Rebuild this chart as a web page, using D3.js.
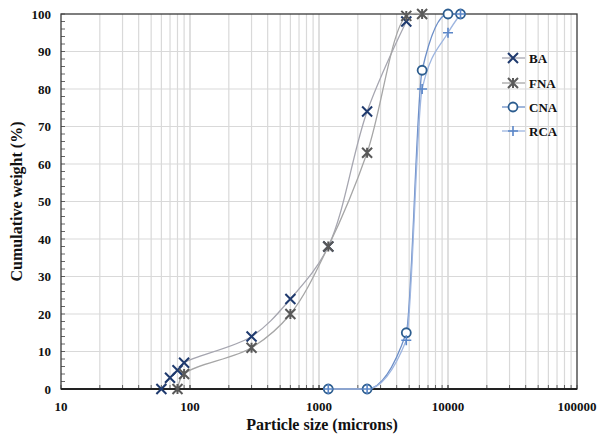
<!DOCTYPE html>
<html>
<head>
<meta charset="utf-8">
<script src="https://cdn.jsdelivr.net/npm/d3@7"></script>
<style>
  html, body { margin: 0; padding: 0; background: #fff; }
  svg { display: block; font-family: "Liberation Serif", "Times New Roman", serif; }
</style>
</head>
<body>
<svg id="chart" width="597" height="434"></svg>
<script>
// Particle size distributions (size in microns, cumulative weight in %)
const baSize   = [60, 70, 80, 90, 300, 600, 1180, 2360, 4750];
const baPass   = [0, 3, 5, 7, 14, 24, 38, 74, 98];
const fnaSize  = [80, 90, 300, 600, 1180, 2360, 4750, 6300];
const fnaPass  = [0, 4, 11, 20, 38, 63, 99.5, 100];
const cnaSize  = [1180, 2360, 4750, 6300, 10000, 12500];
const cnaPass  = [0, 0, 15, 85, 100, 100];
const rcaSize  = [1180, 2360, 4750, 6300, 10000, 12500];
const rcaPass  = [0, 0, 13, 80, 95, 100];

const xTicks = [10, 100, 1000, 10000, 100000];
const yTicks = [0, 10, 20, 30, 40, 50, 60, 70, 80, 90, 100];

const series = [
  { name: "BA",  size: baSize,  pass: baPass,  line: "#a6a6b0", mark: "#1f3a6e", shape: "x",      smooth: "cr" },
  { name: "FNA", size: fnaSize, pass: fnaPass, line: "#a6a6a6", mark: "#595959", shape: "star",   smooth: "cr" },
  { name: "CNA", size: cnaSize, pass: cnaPass, line: "#6d8fc8", mark: "#2c5d8f", shape: "circle", smooth: "mono" },
  { name: "RCA", size: rcaSize, pass: rcaPass, line: "#9db5e0", mark: "#5a86c8", shape: "plus",   smooth: "mono" }
];

const svg = d3.select("#chart");
const mL = 61, mR = 577, mT = 14, mB = 389;

const x = d3.scaleLog().domain([10, 100000]).range([mL, mR]);
const y = d3.scaleLinear().domain([0, 100]).range([mB, mT]);

// grid: vertical lines at every log step, horizontal at every 10 %
const minor = [];
for (let d = 10; d < 100000; d *= 10)
  for (let k = 1; k <= 10; k++) minor.push(d * k);
const grid = svg.append("g");
grid.selectAll("line.v").data(minor.filter(v => v > 10 && v < 100000)).join("line")
  .attr("x1", d => x(d)).attr("x2", d => x(d))
  .attr("y1", mT).attr("y2", mB)
  .attr("stroke", "#d9d9d9").attr("stroke-width", 1.2);
grid.selectAll("line.h").data(yTicks.filter(v => v > 0 && v < 100)).join("line")
  .attr("x1", mL).attr("x2", mR)
  .attr("y1", d => y(d)).attr("y2", d => y(d))
  .attr("stroke", "#d9d9d9").attr("stroke-width", 1.2);

// minor tick marks inside the frame
const tk = svg.append("g").attr("stroke", "#404040").attr("stroke-width", 0.8);
tk.selectAll("line.yt").data(d3.range(0, 101, 2)).join("line")
  .attr("x1", mL).attr("x2", mL + 4)
  .attr("y1", d => y(d)).attr("y2", d => y(d));
tk.selectAll("line.xt").data(minor).join("line")
  .attr("x1", d => x(d)).attr("x2", d => x(d))
  .attr("y1", mB).attr("y2", mB - 4);

// frame
svg.append("rect").attr("x", mL).attr("y", mT)
  .attr("width", mR - mL).attr("height", mB - mT)
  .attr("fill", "none").attr("stroke", "#3a3a3a").attr("stroke-width", 1.3);
svg.append("line").attr("x1", mL).attr("x2", mR).attr("y1", mB).attr("y2", mB)
  .attr("stroke", "#222").attr("stroke-width", 1.8);

// tick labels
svg.append("g").selectAll("text").data(yTicks).join("text")
  .attr("x", 51).attr("y", d => y(d) + 4.5)
  .attr("text-anchor", "end").attr("font-weight", "bold").attr("font-size", 13)
  .attr("fill", "#111").text(d => d);
svg.append("g").selectAll("text").data(xTicks).join("text")
  .attr("x", d => x(d)).attr("y", 411)
  .attr("text-anchor", "middle").attr("font-weight", "bold").attr("font-size", 13)
  .attr("fill", "#111").text(d => d);

// axis titles
svg.append("text").attr("x", 322).attr("y", 430)
  .attr("text-anchor", "middle").attr("font-weight", "bold").attr("font-size", 16)
  .attr("fill", "#111").text("Particle size (microns)");
svg.append("text").attr("transform", `translate(22,${(mT + mB) / 2}) rotate(-90)`)
  .attr("text-anchor", "middle").attr("font-weight", "bold").attr("font-size", 16)
  .attr("fill", "#111").text("Cumulative weight (%)");

function marker(g, shape, color, cx, cy) {
  const s = 5;
  if (shape === "x") {
    g.append("path").attr("d", `M${cx - s},${cy - s}L${cx + s},${cy + s}M${cx - s},${cy + s}L${cx + s},${cy - s}`)
      .attr("stroke", color).attr("stroke-width", 2).attr("fill", "none");
  } else if (shape === "star") {
    g.append("path").attr("d", `M${cx - s},${cy - s}L${cx + s},${cy + s}M${cx - s},${cy + s}L${cx + s},${cy - s}M${cx},${cy - s}L${cx},${cy + s}`)
      .attr("stroke", color).attr("stroke-width", 2).attr("fill", "none");
  } else if (shape === "circle") {
    g.append("circle").attr("cx", cx).attr("cy", cy).attr("r", 4.5)
      .attr("stroke", color).attr("stroke-width", 1.8).attr("fill", "#fff");
  } else {
    g.append("path").attr("d", `M${cx - s},${cy}L${cx + s},${cy}M${cx},${cy - s}L${cx},${cy + s}`)
      .attr("stroke", color).attr("stroke-width", 1.6).attr("fill", "none");
  }
}

const curves = {
  cr: d3.line().curve(d3.curveCatmullRom.alpha(0.5)),
  mono: d3.line().curve(d3.curveMonotoneX)
};
const plot = svg.append("g");
series.forEach(s => {
  const pts = s.size.map((v, i) => [x(v), y(s.pass[i])]);
  plot.append("path").attr("d", curves[s.smooth](pts))
    .attr("fill", "none").attr("stroke", s.line).attr("stroke-width", 1.3);
});
series.forEach(s => {
  const g = plot.append("g");
  s.size.forEach((v, i) => marker(g, s.shape, s.mark, x(v), y(s.pass[i])));
});

// legend
const legY = [58, 83, 107, 131];
series.forEach((s, i) => {
  const g = svg.append("g");
  g.append("line").attr("x1", 502).attr("x2", 525).attr("y1", legY[i]).attr("y2", legY[i])
    .attr("stroke", s.line).attr("stroke-width", 1.3);
  marker(g, s.shape, s.mark, 513, legY[i]);
  g.append("text").attr("x", 529).attr("y", legY[i] + 4.5)
    .attr("font-weight", "bold").attr("font-size", 13).attr("fill", "#111").text(s.name);
});
</script>
</body>
</html>
